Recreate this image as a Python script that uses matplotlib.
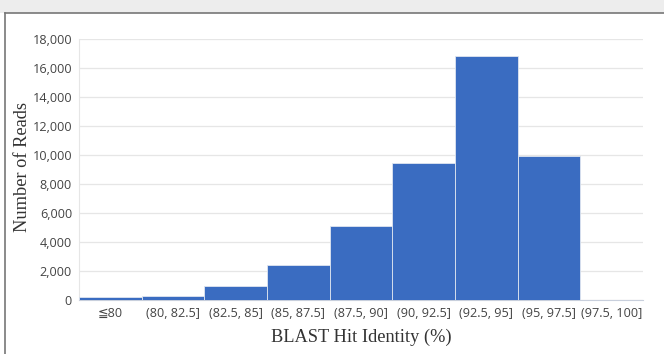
import matplotlib
matplotlib.use("Agg")
import matplotlib.pyplot as plt
from matplotlib.patches import Rectangle

categories = ["≦80", "(80, 82.5]", "(82.5, 85]", "(85, 87.5]", "(87.5, 90]",
              "(90, 92.5]", "(92.5, 95]", "(95, 97.5]", "(97.5, 100]"]
reads = [190, 300, 950, 2420, 5080, 9420, 16820, 9920, 30]
yticks = [0, 2000, 4000, 6000, 8000, 10000, 12000, 14000, 16000, 18000]
ytick_labels = ["0", "2,000", "4,000", "6,000", "8,000", "10,000", "12,000",
                "14,000", "16,000", "18,000"]

W, H = 664, 354
fig = plt.figure(figsize=(W / 100, H / 100), dpi=100)
fig.patch.set_facecolor("white")

# top strip (screenshot context) and frame
fig.patches.append(Rectangle((0, 1 - 13 / H), 1, 13 / H, transform=fig.transFigure,
                             facecolor="#ededed", edgecolor="none", zorder=0))
fig.lines.append(plt.Line2D([4.5 / W, 4.5 / W], [0, 1 - 13 / H], transform=fig.transFigure,
                            color="#777777", lw=1.2))
fig.lines.append(plt.Line2D([4.5 / W, 1], [1 - 13 / H, 1 - 13 / H], transform=fig.transFigure,
                            color="#777777", lw=1.2))

ax = fig.add_axes([79 / W, 1 - 300 / H, (643 - 79) / W, (300 - 39) / H])
x = list(range(len(categories)))
ax.bar(x, reads, width=1.0, color="#3a6cc1", edgecolor="#dfe6f0", linewidth=0.6, zorder=3)

ax.set_xlim(-0.5, len(categories) - 0.5)
ax.set_ylim(0, 18000)
ax.set_yticks(yticks)
ax.set_yticklabels(ytick_labels)
ax.set_xticks(x)
ax.set_xticklabels(categories)

tick_font = ["Open Sans", "DejaVu Sans"]
for lab in ax.get_xticklabels() + ax.get_yticklabels():
    lab.set_family(tick_font)
    lab.set_fontsize(9.1)
    lab.set_color("#444444")

ax.tick_params(axis="both", length=0)
ax.tick_params(axis="x", pad=5)
ax.tick_params(axis="y", pad=5)
ax.grid(axis="y", color="#e6e6e6", linewidth=0.9, zorder=0)
ax.set_axisbelow(True)
for s in ["top", "right"]:
    ax.spines[s].set_visible(False)
ax.spines["left"].set_color("#e6e6e6")
ax.spines["bottom"].set_color("#c8cfdc")
ax.spines["bottom"].set_linewidth(0.8)

ax.set_ylabel("Number of Reads", family="Liberation Serif", fontsize=13.2, color="#333333")
ax.set_xlabel("BLAST Hit Identity (%)", family="Liberation Serif", fontsize=13.2,
              color="#333333")
ax.yaxis.set_label_coords(-0.101, 0.508)
ax.yaxis.label.set_va("center")
ax.xaxis.set_label_coords(0.5, -0.142)
ax.xaxis.label.set_va("center")

fig.savefig("out.png", dpi=100)
